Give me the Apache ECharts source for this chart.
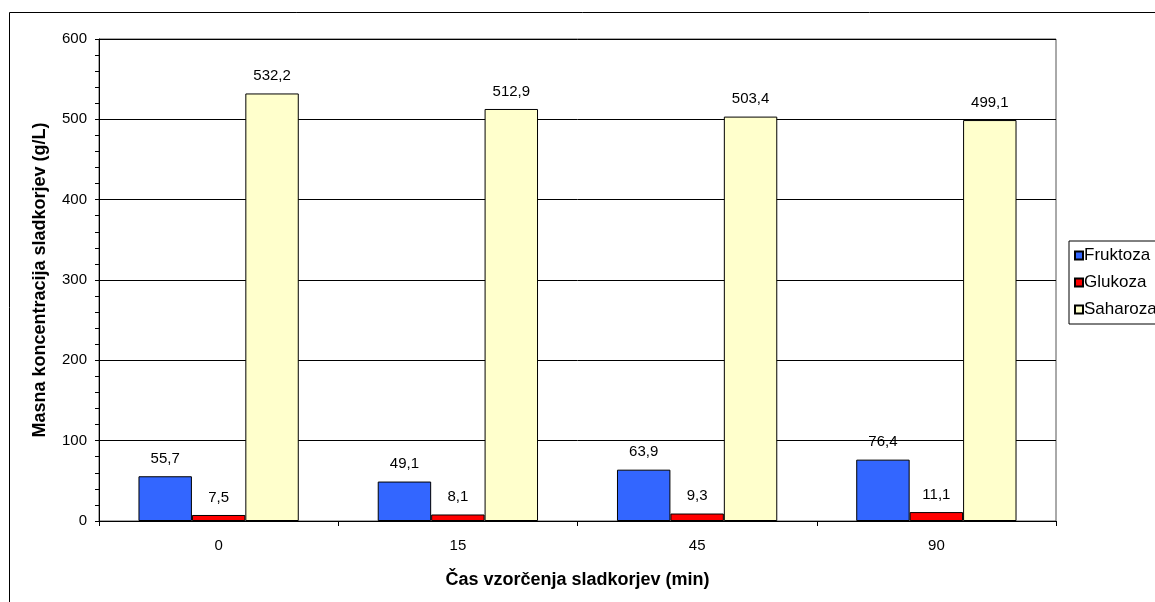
<!DOCTYPE html>
<html>
<head>
<meta charset="utf-8">
<script src="https://cdn.jsdelivr.net/npm/echarts@6/dist/echarts.min.js"></script>
<style>
  html, body { margin: 0; padding: 0; background: #fff; }
  #chart { width: 1155px; height: 602px; }
</style>
</head>
<body>
<div id="chart"></div>
<script>
// Sampling times (min)
const categories = ['0', '15', '45', '90'];
// Sugar mass concentrations (g/L)
const fruktoza = [55.7, 49.1, 63.9, 76.4];
const glukoza = [7.5, 8.1, 9.3, 11.1];
const saharoza = [532.2, 512.9, 503.4, 499.1];
const yTicks = { min: 0, max: 600, interval: 100 };

const FONT = '"Liberation Sans", Arial, sans-serif';
const fmt = v => String(v).replace('.', ',');

function barSeries(name, data, color) {
  return {
    name: name,
    type: 'bar',
    data: data,
    barGap: '0%',
    barCategoryGap: '33%',
    itemStyle: { color: color, borderColor: '#000', borderWidth: 1 },
    label: {
      show: true,
      position: 'top',
      distance: 10,
      color: '#000',
      fontFamily: FONT,
      fontSize: 15,
      formatter: p => fmt(p.value)
    },
    emphasis: { disabled: true }
  };
}

const chart = echarts.init(document.getElementById('chart'), null, { renderer: 'canvas' });
chart.setOption({
  animation: false,
  backgroundColor: '#fff',
  textStyle: { fontFamily: FONT },
  graphic: [{
    type: 'rect',
    silent: true,
    shape: { x: 9.5, y: 12.5, width: 1300, height: 800 },
    style: { fill: 'none', stroke: '#000', lineWidth: 1 }
  }],
  grid: {
    left: 99, top: 39, right: 99, bottom: 81,
    show: true,
    borderColor: '#555',
    borderWidth: 1,
    containLabel: false
  },
  legend: {
    left: 1069,
    top: 241,
    orient: 'vertical',
    itemWidth: 8,
    itemHeight: 8,
    itemGap: 10,
    padding: [6, 6, 6, 5],
    borderColor: '#000',
    borderWidth: 1,
    icon: 'rect',
    textStyle: { color: '#000', fontFamily: FONT, fontSize: 17, padding: [0, 0, 0, -4] },
    data: ['Fruktoza', 'Glukoza', 'Saharoza']
  },
  xAxis: {
    type: 'category',
    data: categories,
    name: 'Čas vzorčenja sladkorjev (min)',
    nameLocation: 'middle',
    nameGap: 50,
    nameTextStyle: { color: '#000', fontFamily: FONT, fontSize: 18, fontWeight: 'bold' },
    axisLine: { lineStyle: { color: '#000', width: 1 } },
    axisTick: { show: true, length: 5, lineStyle: { color: '#000' } },
    axisLabel: { color: '#000', fontFamily: FONT, fontSize: 15, margin: 17 },
    splitLine: { show: false }
  },
  yAxis: {
    type: 'value',
    min: yTicks.min,
    max: yTicks.max,
    interval: yTicks.interval,
    name: 'Masna koncentracija sladkorjev (g/L)',
    nameLocation: 'middle',
    nameGap: 50,
    nameTextStyle: { color: '#000', fontFamily: FONT, fontSize: 18, fontWeight: 'bold' },
    axisLine: { show: true, lineStyle: { color: '#000', width: 1 } },
    axisTick: { show: true, length: 4, lineStyle: { color: '#000' } },
    minorTick: { show: true, splitNumber: 5, length: 4, lineStyle: { color: '#000' } },
    axisLabel: { color: '#000', fontFamily: FONT, fontSize: 15, margin: 12 },
    splitLine: { show: true, lineStyle: { color: '#000', width: 1 } }
  },
  series: [
    barSeries('Fruktoza', fruktoza, '#3366FF'),
    barSeries('Glukoza', glukoza, '#FF0000'),
    barSeries('Saharoza', saharoza, '#FFFFCC')
  ]
});
</script>
</body>
</html>
